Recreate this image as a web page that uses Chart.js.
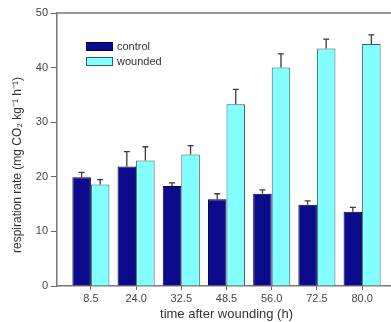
<!DOCTYPE html>
<html>
<head>
<meta charset="utf-8">
<script src="https://cdn.jsdelivr.net/npm/chart.js@4"></script>
<style>
  html, body { margin: 0; padding: 0; overflow: hidden; background: #fff; }
  #wrap { width: 400px; height: 322px; }
</style>
</head>
<body>
<div id="wrap"><canvas id="respChart"></canvas></div>
<script>
// Data
const timeLabels = ['8.5', '24.0', '32.5', '48.5', '56.0', '72.5', '80.0'];
const positions = [1, 2, 3, 4, 5, 6, 7];
const controlRate = [19.9, 21.9, 18.3, 15.9, 16.9, 14.9, 13.6];
const controlErr = [0.9, 2.7, 0.6, 1.0, 0.7, 0.7, 0.8];
const woundedRate = [18.6, 23.0, 24.1, 33.3, 40.0, 43.5, 44.3];
const woundedErr = [0.9, 2.5, 1.6, 2.7, 2.5, 1.7, 1.7];
const yTicks = [0, 10, 20, 30, 40, 50];
const yTitle = 'respiration rate (mg CO\u2082 kg\u207B\u00B9 h\u207B\u00B9)';

const FONT = '"Liberation Sans", Arial, sans-serif';

// error bars (upper only) + frame + legend + y title
const extras = {
  id: 'extras',
  afterDatasetsDraw(chart) {
    const c = chart.ctx;
    const errs = [controlErr, woundedErr];
    c.save();
    c.strokeStyle = '#3a3a3a';
    c.lineWidth = 1.3;
    chart.data.datasets.forEach((ds, di) => {
      chart.getDatasetMeta(di).data.forEach((bar, i) => {
        const yTop = chart.scales.y.getPixelForValue(ds.data[i].y + errs[di][i]);
        c.beginPath();
        c.moveTo(bar.x, bar.y);
        c.lineTo(bar.x, yTop);
        c.moveTo(bar.x - 3, yTop);
        c.lineTo(bar.x + 3, yTop);
        c.stroke();
      });
    });
    // top frame line
    const a = chart.chartArea;
    c.strokeStyle = '#777';
    c.lineWidth = 1.5;
    c.beginPath();
    c.moveTo(a.left, a.top);
    c.lineTo(a.right, a.top);
    c.stroke();
    // legend
    const items = [['control', chart.data.datasets[0]], ['wounded', chart.data.datasets[1]]];
    c.font = '11px ' + FONT;
    c.textBaseline = 'middle';
    items.forEach(([name, ds], k) => {
      const y0 = 42 + k * 15;
      c.fillStyle = ds.backgroundColor;
      c.fillRect(86, y0, 27, 9);
      c.strokeStyle = ds.borderColor;
      c.lineWidth = 1;
      c.strokeRect(86.5, y0 + 0.5, 26, 8);
      c.fillStyle = '#333';
      c.fillText(name, 117, y0 + 4.5);
    });
    // y axis title, sits a bit below the axis centre in the original
    c.translate(21, 165);
    c.rotate(-Math.PI / 2);
    c.font = '12px ' + FONT;
    c.textAlign = 'center';
    c.textBaseline = 'alphabetic';
    c.fillStyle = '#333';
    c.fillText(yTitle, 0, 0);
    c.restore();
  }
};

new Chart(document.getElementById('respChart'), {
  type: 'bar',
  data: {
    datasets: [{
      label: 'control',
      data: positions.map((p, i) => ({ x: p, y: controlRate[i] })),
      backgroundColor: '#0b0b8c',
      borderColor: '#00004a',
      borderWidth: 1
    }, {
      label: 'wounded',
      data: positions.map((p, i) => ({ x: p, y: woundedRate[i] })),
      backgroundColor: '#84ffff',
      borderColor: '#2b6262',
      borderWidth: 1
    }]
  },
  options: {
    responsive: true,
    maintainAspectRatio: false,
    animation: false,
    categoryPercentage: 0.82,
    barPercentage: 1,
    layout: { padding: { top: 13, right: 4, left: 0, bottom: 0 } },
    plugins: { legend: { display: false }, tooltip: { enabled: false } },
    scales: {
      x: {
        type: 'linear',
        offset: false,
        min: 0.25,
        max: 7.75,
        afterBuildTicks: s => { s.ticks = positions.map(v => ({ value: v })); },
        afterFit: s => { s.height = 36; },
        grid: { drawOnChartArea: false, offset: false, tickLength: 4, color: '#666' },
        border: { color: '#777', width: 1.5 },
        ticks: {
          autoSkip: false,
          maxRotation: 0,
          padding: 2,
          color: '#444',
          font: { family: FONT, size: 11 },
          callback: v => timeLabels[v - 1]
        },
        title: {
          display: true,
          text: 'time after wounding (h)',
          color: '#333',
          font: { family: FONT, size: 13 },
          padding: { top: 0, bottom: 0 }
        }
      },
      y: {
        min: 0,
        max: 50,
        afterBuildTicks: s => { s.ticks = yTicks.map(v => ({ value: v })); },
        afterFit: s => { s.width = 57; },
        grid: { drawOnChartArea: false, tickLength: 6, color: '#666' },
        border: { color: '#777', width: 1.5 },
        ticks: {
          padding: 3,
          color: '#444',
          font: { family: FONT, size: 11 }
        }
      }
    }
  },
  plugins: [extras]
});
</script>
</body>
</html>
